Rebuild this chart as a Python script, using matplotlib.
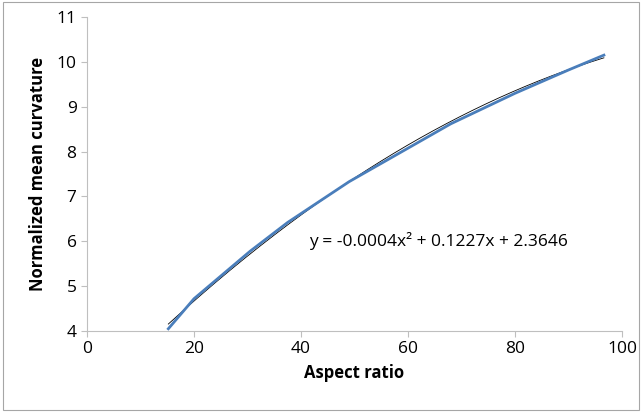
import numpy as np
import matplotlib
matplotlib.use("Agg")
import matplotlib.pyplot as plt
from matplotlib.patches import Rectangle

# data
aspect_ratio = [15.2, 20.0, 30.5, 37.5, 49.0, 68.0, 80.0, 90.0, 96.6]
mean_curv = [4.05, 4.72, 5.78, 6.42, 7.33, 8.62, 9.30, 9.82, 10.15]
x_ticks = [0, 20, 40, 60, 80, 100]
y_ticks = [4, 5, 6, 7, 8, 9, 10, 11]
eq_text = "y = -0.0004x\u00b2 + 0.1227x + 2.3646"

plt.rcParams['font.family'] = ['Open Sans', 'DejaVu Sans']

fig = plt.figure(figsize=(6.42, 4.12), dpi=100)
ax = fig.add_axes([0.1355, 0.1966, 0.8335, 0.7621])

# figure border
fig.patches.append(Rectangle((0.004, 0.004), 0.992, 0.992, transform=fig.transFigure,
                             fill=False, edgecolor="#a6a6a6", linewidth=0.8))

ax.plot(aspect_ratio, mean_curv, color="#4a7ebb", linewidth=2.0, zorder=3)

# polynomial trendline (order 2)
coef = np.polyfit(aspect_ratio, mean_curv, 2)
xs = np.linspace(min(aspect_ratio), max(aspect_ratio), 200)
ax.plot(xs, np.polyval(coef, xs), color="black", linewidth=0.6, zorder=2)

ax.text(41.5, 6.0, eq_text, fontsize=12.5, va="center", ha="left")

ax.set_xlim(0, 100)
ax.set_ylim(4, 11)
ax.set_xticks(x_ticks)
ax.set_yticks(y_ticks)
ax.tick_params(axis="both", colors="#bfbfbf", labelcolor="black", labelsize=12.5,
               length=4, width=0.8, direction="out")
for s in ["top", "right"]:
    ax.spines[s].set_visible(False)
for s in ["left", "bottom"]:
    ax.spines[s].set_color("#bfbfbf")
    ax.spines[s].set_linewidth(0.8)

ax.set_xlabel("Aspect ratio", fontsize=12, fontweight="bold", labelpad=5)
ax.set_ylabel("Normalized mean curvature", fontsize=12, fontweight="bold", labelpad=7)

fig.savefig("out.png", dpi=100)
